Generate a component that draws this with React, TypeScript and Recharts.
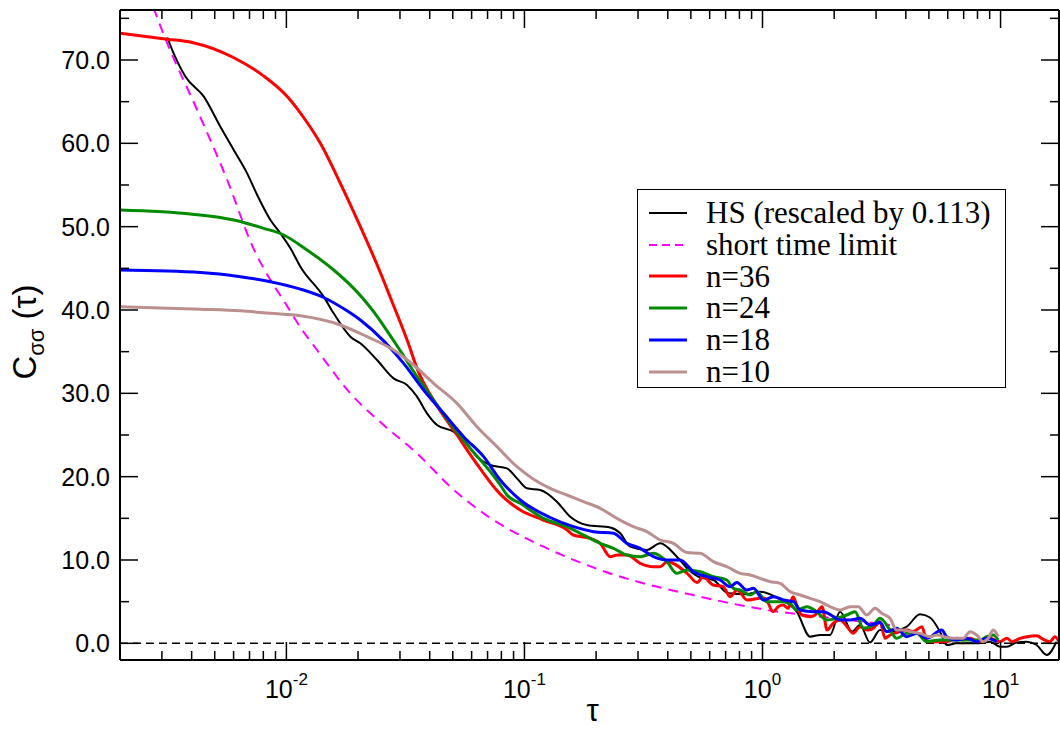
import React from 'react';
import { LineChart, Line, XAxis, YAxis, ReferenceLine, Legend } from 'recharts';

// values (tau on a log axis)
const hsTau = [0.00316, 0.00336, 0.00377, 0.0045, 0.00528, 0.00601, 0.00684, 0.00754, 0.00857, 0.00944, 0.0104, 0.01145, 0.01434, 0.0158, 0.01857, 0.02045, 0.02403, 0.02821, 0.03212, 0.03538, 0.03896, 0.04293, 0.0504, 0.0555, 0.06318, 0.07185, 0.08445, 0.09301, 0.1024, 0.1165, 0.1369, 0.1557, 0.183, 0.2292, 0.2525, 0.2781, 0.3268, 0.3716, 0.4367, 0.4873, 0.547, 0.6221, 0.7171, 0.8453, 0.977, 1.163, 1.393, 1.585, 1.745, 1.922, 2.118, 2.378, 2.569, 2.829, 3.117, 3.434, 4.035, 4.587, 5.053, 5.567, 5.939, 6.541, 7.937, 9.027, 9.942, 10.61, 11.68, 12.87, 14.18, 15.62, 17.2];
const hsC = [72.7, 70.8, 68.0, 65.6, 62.0, 59.2, 56.4, 53.8, 50.8, 49.2, 47.4, 45.2, 41.6, 39.6, 36.8, 36.0, 34.0, 31.8, 31.0, 29.6, 27.6, 26.2, 25.4, 24.4, 22.4, 21.4, 21.0, 19.8, 18.6, 18.4, 17.0, 15.2, 14.2, 13.9, 13.2, 11.6, 11.2, 12.0, 10.4, 8.9, 7.9, 7.6, 6.0, 5.9, 6.2, 5.4, 3.8, 0.8, 1.0, 1.0, 3.8, 1.4, 2.2, 0.1, 1.6, 1.4, 2.0, 3.5, 3.1, 1.4, -0.2, 0, 0, 0.2, -0.4, -0.4, 0.1, 0.2, -0.2, -1.4, 0.2];

const shortTau = [0.002, 0.00279, 0.00316, 0.00422, 0.00564, 0.00727, 0.00857, 0.00971, 0.01146, 0.01345, 0.01857, 0.02562, 0.03538, 0.0488, 0.06736, 0.07912, 0.1202, 0.2081, 0.547, 1.045, 1.867, 3.434];
const shortC = [90, 76.0, 72.0, 64.0, 55.6, 47.4, 43.6, 41.2, 37.9, 35.2, 30.0, 26.2, 22.8, 18.8, 15.6, 14.3, 11.6, 8.8, 5.6, 4.0, 3.1, 2.2];

const n36Tau = [0.002, 0.00316, 0.00402, 0.00599, 0.00801, 0.0101, 0.01202, 0.01389, 0.01685, 0.02045, 0.02481, 0.02733, 0.03252, 0.03538, 0.04293, 0.05208, 0.06318, 0.07912, 0.09603, 0.1199, 0.1512, 0.1603, 0.1889, 0.2081, 0.2292, 0.2453, 0.2701, 0.3063, 0.3474, 0.3716, 0.3977, 0.4826, 0.5315, 0.5632, 0.6203, 0.6833, 0.7311, 0.7824, 0.8618, 0.977, 1.025, 1.108, 1.163, 1.221, 1.281, 1.345, 1.398, 1.466, 1.585, 1.663, 1.78, 1.867, 1.98, 2.118, 2.266, 2.401, 2.569, 2.749, 2.913, 3.117, 3.271, 3.434, 3.782, 4.047, 4.288, 4.677, 4.909, 5.408, 5.957, 6.561, 6.952, 7.44, 8.195, 9.027, 9.942, 10.64, 11.17, 12.07, 12.91, 14.22, 15.07, 16.13, 16.92, 17.6];
const n36C = [73.2, 72.5, 72.1, 70.3, 68.1, 65.6, 62.8, 60.0, 55.2, 50.0, 44.5, 41.5, 36.0, 33.0, 28.5, 25.0, 21.5, 17.9, 16.0, 14.8, 13.6, 13.0, 12.6, 12.0, 10.4, 10.6, 10.6, 9.6, 9.2, 9.2, 9.8, 8.4, 7.3, 8.0, 7.0, 6.8, 5.6, 6.4, 5.2, 5.4, 5.4, 3.8, 4.4, 4.6, 4.2, 5.6, 4.4, 3.4, 3.2, 3.4, 4.4, 1.6, 2.4, 2.8, 2.0, 1.2, 2.0, 1.6, 1.8, 2.6, 0.6, 1.0, 1.4, 1.6, 1.4, 2.0, 0.2, 0.2, 0.2, 0.6, 0.4, 0.6, 0.2, 0.6, 0.2, 0.6, 0.2, 0.6, 0.8, 0.9, 0.5, 0.2, 0.8, 0.2];

const n24Tau = [0.002, 0.00402, 0.00601, 0.00803, 0.00974, 0.01221, 0.0158, 0.01917, 0.02111, 0.02325, 0.02562, 0.03011, 0.03538, 0.04153, 0.0488, 0.05923, 0.07185, 0.07912, 0.08445, 0.09603, 0.1202, 0.1505, 0.1715, 0.2081, 0.2366, 0.2693, 0.3063, 0.3483, 0.3965, 0.4367, 0.4811, 0.547, 0.6221, 0.7081, 0.7547, 0.8054, 0.8871, 0.9464, 1.042, 1.224, 1.306, 1.393, 1.535, 1.69, 1.862, 2.051, 2.259, 2.448, 2.652, 2.921, 3.117, 3.434, 3.662, 4.035, 4.444, 4.896, 5.567, 6.33, 7.2, 8.195, 8.743, 9.318, 9.779];
const n24C = [52.0, 51.5, 50.8, 49.8, 49.0, 47.2, 44.8, 42.6, 41.3, 39.8, 38.1, 35.1, 32.0, 29.2, 26.4, 23.4, 20.6, 19.0, 17.8, 16.8, 15.0, 14.0, 13.2, 12.0, 11.4, 10.6, 10.4, 10.8, 9.8, 8.4, 8.8, 8.6, 8.0, 7.6, 6.6, 6.4, 5.8, 6.2, 5.0, 5.0, 4.8, 4.0, 4.4, 3.8, 2.8, 3.0, 3.4, 3.8, 1.8, 2.2, 3.0, 1.6, 0.6, 1.2, 1.2, 0.2, 0.4, 0.4, 0.4, 0.4, 0.8, 1.0, 0.4];

const n18Tau = [0.002, 0.00436, 0.00641, 0.00857, 0.01146, 0.01434, 0.01798, 0.02045, 0.02562, 0.03108, 0.03771, 0.04575, 0.0555, 0.06736, 0.07912, 0.09603, 0.1283, 0.1607, 0.195, 0.2366, 0.2693, 0.3063, 0.3483, 0.3965, 0.451, 0.5128, 0.5838, 0.6637, 0.7311, 0.7801, 0.8593, 0.9167, 1.01, 1.113, 1.225, 1.35, 1.44, 1.637, 1.804, 1.985, 2.118, 2.332, 2.569, 2.829, 3.117, 3.325, 3.662, 4.035, 4.444, 4.896, 5.659, 5.939, 6.541, 7.2, 7.937, 8.743, 9.63];
const n18C = [44.8, 44.5, 44.0, 43.4, 42.5, 41.5, 39.9, 38.8, 36.3, 33.6, 30.4, 27.6, 24.8, 22.4, 19.6, 17.2, 15.1, 14.0, 13.4, 13.2, 12.0, 11.4, 10.4, 10.0, 10.0, 8.6, 8.0, 7.6, 6.8, 7.3, 6.4, 6.6, 5.2, 5.6, 5.2, 5.0, 4.0, 3.8, 3.8, 3.2, 2.8, 2.8, 3.0, 2.2, 2.5, 1.4, 1.8, 0.8, 1.2, 0.6, 1.6, 0.8, 0.4, 0.6, 0.2, 0.6, 0.2];

const n10Tau = [0.002, 0.00436, 0.00641, 0.00857, 0.01146, 0.01685, 0.02182, 0.02821, 0.03422, 0.04153, 0.05208, 0.06318, 0.07665, 0.09301, 0.1092, 0.1283, 0.1508, 0.1771, 0.2081, 0.2445, 0.2871, 0.3268, 0.3716, 0.4227, 0.4811, 0.547, 0.6221, 0.7081, 0.8054, 0.8871, 0.977, 1.076, 1.186, 1.306, 1.44, 1.585, 1.745, 1.922, 2.118, 2.332, 2.527, 2.741, 2.97, 3.168, 3.434, 3.662, 3.904, 4.165, 4.587, 5.053, 5.391, 5.746, 6.33, 6.972, 7.44, 7.937, 8.461, 8.88, 9.318, 9.779];
const n10C = [40.4, 40.1, 39.9, 39.6, 39.3, 38.2, 36.8, 35.2, 33.4, 31.2, 28.8, 26.0, 23.6, 21.2, 19.7, 18.6, 17.8, 17.0, 16.2, 15.0, 14.0, 13.4, 12.4, 12.0, 10.9, 10.8, 9.8, 9.2, 8.4, 8.2, 7.8, 7.4, 7.2, 6.2, 5.8, 5.4, 5.0, 4.4, 4.0, 4.4, 4.4, 3.4, 4.2, 3.6, 3.0, 1.6, 1.6, 1.4, 1.2, 0.8, 1.0, 0.8, 0.6, 0.6, 1.4, 1.0, 0.2, 0.6, 1.6, 0.8];

const xTicks = [0.002, 0.003, 0.004, 0.005, 0.006, 0.007, 0.008, 0.009, 0.01, 0.02, 0.03, 0.04, 0.05, 0.06, 0.07, 0.08, 0.09, 0.1, 0.2, 0.3, 0.4, 0.5, 0.6, 0.7, 0.8, 0.9, 1, 2, 3, 4, 5, 6, 7, 8, 9, 10];
const yTicks = [0, 5, 10, 15, 20, 25, 30, 35, 40, 45, 50, 55, 60, 65, 70, 75];

const X_DOMAIN: [number, number] = [0.002, 17.6];
const Y_DOMAIN: [number, number] = [-2, 76];

const SANS = '"Liberation Sans", Arial, Helvetica, sans-serif';
const SERIF = '"Liberation Serif", "Times New Roman", Times, serif';

const pts = (tau: number[], c: number[]) => tau.map((t, i) => ({ tau: t, c: c[i] }));

const series = [
  { key: 'hs', name: 'HS (rescaled by 0.113)', color: '#000000', width: 2, dash: undefined as string | undefined, data: pts(hsTau, hsC) },
  { key: 'short', name: 'short time limit', color: '#ff00ff', width: 2, dash: '10 7', data: pts(shortTau, shortC) },
  { key: 'n36', name: 'n=36', color: '#ff0000', width: 3, dash: undefined, data: pts(n36Tau, n36C) },
  { key: 'n24', name: 'n=24', color: '#008b00', width: 3, dash: undefined, data: pts(n24Tau, n24C) },
  { key: 'n18', name: 'n=18', color: '#0000ff', width: 3, dash: undefined, data: pts(n18Tau, n18C) },
  { key: 'n10', name: 'n=10', color: '#bc8f8f', width: 3, dash: undefined, data: pts(n10Tau, n10C) },
];

const isDecade = (v: number) => Math.abs(Math.log10(v) - Math.round(Math.log10(v))) < 1e-6;

function BottomTick(props: any) {
  const { x, y, payload } = props;
  const major = isDecade(payload.value);
  return (
    <g>
      <line x1={x} x2={x} y1={y} y2={y - (major ? 18 : 9)} stroke="#000" strokeWidth={1.5} />
      {major && (
        <text x={x} y={y + 38} textAnchor="middle" fontFamily={SANS} fontSize={25} fill="#000">
          10<tspan dy={-13} fontSize={17}>{Math.round(Math.log10(payload.value))}</tspan>
        </text>
      )}
    </g>
  );
}

function TopTick(props: any) {
  const { x, y, payload } = props;
  const major = isDecade(payload.value);
  return <line x1={x} x2={x} y1={y} y2={y + (major ? 18 : 9)} stroke="#000" strokeWidth={1.5} />;
}

function LeftTick(props: any) {
  const { x, y, payload } = props;
  const major = payload.value % 10 === 0;
  return (
    <g>
      <line x1={x} x2={x + (major ? 18 : 9)} y1={y} y2={y} stroke="#000" strokeWidth={1.5} />
      {major && (
        <text x={x - 10} y={y + 9} textAnchor="end" fontFamily={SANS} fontSize={25} fill="#000">
          {payload.value.toFixed(1)}
        </text>
      )}
    </g>
  );
}

function RightTick(props: any) {
  const { x, y, payload } = props;
  const major = payload.value % 10 === 0;
  return <line x1={x} x2={x - (major ? 18 : 9)} y1={y} y2={y} stroke="#000" strokeWidth={1.5} />;
}

function LegendBox() {
  return (
    <div
      style={{
        border: '1.5px solid #000',
        background: '#fff',
        boxSizing: 'border-box',
        width: 369,
        height: 199,
        paddingTop: 7,
        fontFamily: SERIF,
        fontSize: 31,
        color: '#000',
      }}
    >
      {series.map((s) => (
        <div key={s.key} style={{ display: 'flex', alignItems: 'center', height: 31.8, lineHeight: '31.8px', whiteSpace: 'nowrap' }}>
          <svg width={38} height={6} style={{ marginLeft: 11, marginRight: 19, flex: 'none' }}>
            <line x1={0} x2={38} y1={3} y2={3} stroke={s.color} strokeWidth={s.width === 3 ? 3 : 2} strokeDasharray={s.dash ? '8 5' : undefined} />
          </svg>
          <span>{s.name}</span>
        </div>
      ))}
    </div>
  );
}

const axisLine = { stroke: '#000', strokeWidth: 2 };

export default function App() {
  return (
    <div style={{ position: 'absolute', left: 0, top: 0, width: 1060, height: 729, background: '#fff' }}>
      <LineChart width={1060} height={729} margin={{ top: 9, right: 0, bottom: 0, left: 0 }}>
        <XAxis
          xAxisId="bottom"
          dataKey="tau"
          type="number"
          scale="log"
          domain={X_DOMAIN}
          allowDataOverflow
          ticks={xTicks}
          interval={0}
          height={69}
          tickSize={0}
          tickMargin={0}
          tickLine={false}
          axisLine={axisLine}
          tick={<BottomTick />}
          label={{
            content: (p: any) => (
              <text x={p.viewBox.x + p.viewBox.width / 2 + 3} y={p.viewBox.y + 61} textAnchor="middle" fontFamily={SANS} fontSize={31} fill="#000">
                τ
              </text>
            ),
          }}
        />
        <XAxis
          xAxisId="top"
          orientation="top"
          dataKey="tau"
          type="number"
          scale="log"
          domain={X_DOMAIN}
          allowDataOverflow
          ticks={xTicks}
          interval={0}
          height={1}
          tickSize={0}
          tickMargin={0}
          tickLine={false}
          axisLine={axisLine}
          tick={<TopTick />}
        />
        <YAxis
          yAxisId="left"
          type="number"
          domain={Y_DOMAIN}
          allowDataOverflow
          ticks={yTicks}
          interval={0}
          width={120}
          tickSize={0}
          tickMargin={0}
          tickLine={false}
          axisLine={axisLine}
          tick={<LeftTick />}
          label={{
            content: (p: any) => {
              const cx = p.viewBox.x + 36;
              const cy = p.viewBox.y + p.viewBox.height / 2 - 3;
              return (
                <text transform={`rotate(-90 ${cx} ${cy})`} x={cx} y={cy} textAnchor="middle" fontFamily={SANS} fontSize={33} fill="#000">
                  C<tspan dy={8} fontSize={22}>σσ</tspan>
                  <tspan dy={-8}> (τ)</tspan>
                </text>
              );
            },
          }}
        />
        <YAxis
          yAxisId="right"
          orientation="right"
          type="number"
          domain={Y_DOMAIN}
          allowDataOverflow
          ticks={yTicks}
          interval={0}
          width={1}
          tickSize={0}
          tickMargin={0}
          tickLine={false}
          axisLine={axisLine}
          tick={<RightTick />}
        />
        <ReferenceLine xAxisId="bottom" yAxisId="left" y={0} stroke="#000" strokeWidth={1.5} strokeDasharray="8 5" />
        {series.map((s) => (
          <Line
            key={s.key}
            xAxisId="bottom"
            yAxisId="left"
            data={s.data}
            dataKey="c"
            name={s.name}
            type="monotone"
            stroke={s.color}
            strokeWidth={s.width}
            strokeDasharray={s.dash}
            dot={false}
            activeDot={false}
            isAnimationActive={false}
          />
        ))}
        <Legend
          layout="vertical"
          align="center"
          verticalAlign="middle"
          wrapperStyle={{ left: 637, top: 189, width: 369, height: 199 }}
          content={() => <LegendBox />}
        />
      </LineChart>
    </div>
  );
}
